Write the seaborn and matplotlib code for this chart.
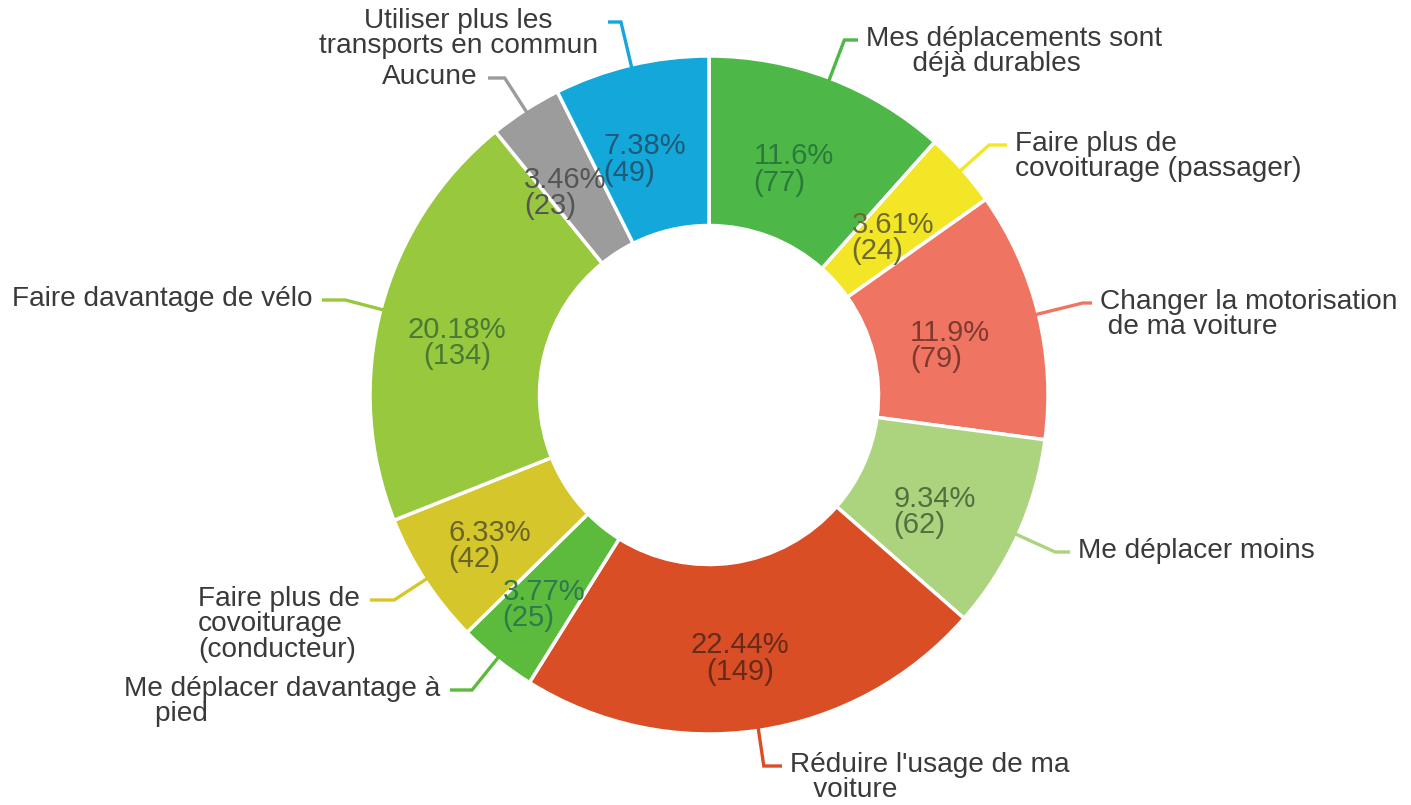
import numpy as np
import matplotlib
matplotlib.use("Agg")
import matplotlib.pyplot as plt
import seaborn as sns

sns.set_theme(style="white")
plt.rcParams['font.family'] = ['Liberation Sans', 'DejaVu Sans']

# ---- data ----
categories = [
    "Mes déplacements sont\n      déjà durables",
    "Faire plus de\ncovoiturage (passager)",
    "Changer la motorisation\n de ma voiture",
    "Me déplacer moins",
    "Réduire l'usage de ma\n   voiture",
    "Me déplacer davantage à\n    pied",
    "Faire plus de\ncovoiturage\n(conducteur)",
    "Faire davantage de vélo",
    "Aucune",
    "Utiliser plus les\ntransports en commun",
]
counts = [77, 24, 79, 62, 149, 25, 42, 134, 23, 49]
colors = ["#4db848", "#f2e627", "#f07462", "#acd47f", "#d94e25",
          "#5cbb3d", "#d5c72b", "#97c83d", "#9c9c9c", "#14a7da"]
pct_colors = ["#2a7a3c", "#6e6a2e", "#7e3a30", "#52703f", "#6a2a1a",
              "#2f7a4c", "#6a6428", "#4a7a33", "#555555", "#1f5a78"]

# ---- layout (pixel coordinates, image y measured from top) ----
W, H = 1411, 805
cx, cy_img, R = 709, 395, 339
# label anchor: (x, first-line y, ha, multialignment)
label_layout = [
    (866, 40, "left", "left"),
    (1015, 145, "left", "left"),
    (1100, 303, "left", "left"),
    (1078, 552, "left", "left"),
    (790, 766, "left", "left"),
    (440, 690, "right", "left"),
    (360, 600, "right", "left"),
    (312, 300, "right", "left"),
    (478, 78, "right", "left"),
    (598, 22, "right", "center"),
]
pct_align = ["left", "left", "left", "left", "center",
             "left", "left", "center", "left", "left"]

fig = plt.figure(figsize=(W / 100, H / 100), dpi=100)
ax = fig.add_axes([0, 0, 1, 1])

cy = H - cy_img
wedges, _ = ax.pie(counts, colors=colors, startangle=90, counterclock=False,
                   center=(cx, cy), radius=R, frame=True,
                   wedgeprops=dict(width=R * 0.5, edgecolor="white", linewidth=2.5))
ax.set_xlim(0, W)
ax.set_ylim(0, H)
ax.set_aspect("equal")
ax.axis("off")

total = sum(counts)
for i, w in enumerate(wedges):
    theta = np.deg2rad((w.theta1 + w.theta2) / 2)
    dx, dy = np.cos(theta), np.sin(theta)
    # percent label
    pct = f"{counts[i] / total * 100:.2f}".rstrip("0").rstrip(".")
    px = cx + dx * R * 0.75 - 6
    py = cy + dy * R * 0.75 - 12
    ax.text(px, py, f"{pct}%\n({counts[i]})", ha="center", va="center",
            multialignment=pct_align[i], fontsize=21, color=pct_colors[i],
            linespacing=0.92)
    # connector
    lx, ly_img, ha, ma = label_layout[i]
    ly = H - ly_img
    sx, sy = cx + dx * R * 0.985, cy + dy * R * 0.985
    t = (ly - sy) / dy if abs(dy) > 1e-6 else 0
    ex, ey = sx + dx * t, ly
    endx = lx - 8 if ha == "left" else lx + 10
    ax.plot([sx, ex, endx], [sy, ey, ey], color=colors[i], lw=2.4,
            solid_capstyle="butt", solid_joinstyle="miter")
    ax.text(lx, ly + 14, categories[i], ha=ha, va="top", multialignment=ma,
            fontsize=20.2, color="#3a3a3a", linespacing=0.97)

fig.savefig("out.png", dpi=100, facecolor="white")
